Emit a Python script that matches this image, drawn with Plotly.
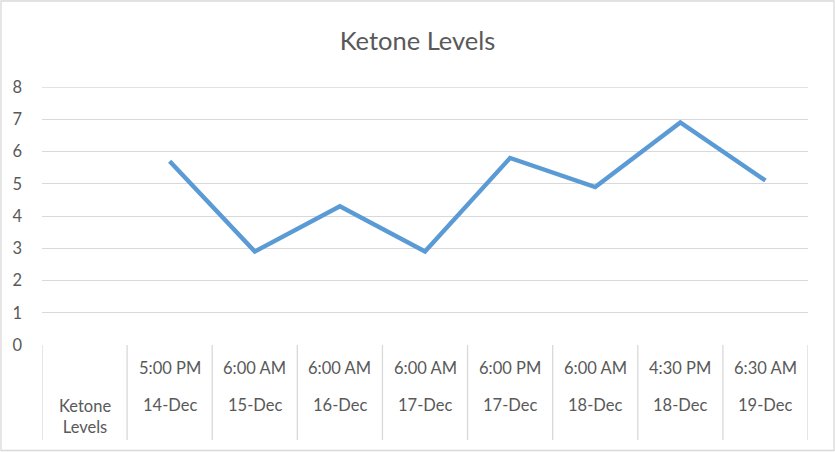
import plotly.graph_objects as go

title_text = "Ketone Levels"
series_name = "Ketone Levels"
times = ["5:00 PM", "6:00 AM", "6:00 AM", "6:00 AM", "6:00 PM", "6:00 AM", "4:30 PM", "6:30 AM"]
dates = ["14-Dec", "15-Dec", "16-Dec", "17-Dec", "17-Dec", "18-Dec", "18-Dec", "19-Dec"]
values = [5.7, 2.9, 4.3, 2.9, 5.8, 4.9, 6.9, 5.1]
y_ticks = [0, 1, 2, 3, 4, 5, 6, 7, 8]

categories = [f"{d} {t}" for d, t in zip(dates, times)]

W, H = 835, 452
L, R, T, B = 42, 27, 87, 107
plot_h = H - T - B
plot_w = W - L - R

text_color = "#595959"
grid_color = "#d9d9d9"
font_family = "Lato, 'Open Sans', sans-serif"

fig = go.Figure()
fig.add_trace(go.Scatter(
    x=categories, y=values, mode="lines", name=series_name,
    line=dict(color="#5b9bd5", width=4.4), hoverinfo="y",
))

n = len(categories)
shapes = []
# top gridline (plotly drops the one sitting on the plot edge)
shapes.append(dict(type="line", xref="paper", yref="y", x0=0, x1=1,
                   y0=max(y_ticks), y1=max(y_ticks),
                   line=dict(color=grid_color, width=1.3), layer="below"))
# vertical dividers of the category table
for i in range(n + 2):
    xv = i - 1.5
    shapes.append(dict(type="line", xref="x", yref="paper", x0=xv, x1=xv,
                       y0=0, y1=(345 - 440) / plot_h,
                       line=dict(color=grid_color, width=1.3), layer="above"))
# outer chart border
shapes.append(dict(type="rect", xref="paper", yref="paper",
                   x0=(1 - L) / plot_w, x1=(834 - L) / plot_w,
                   y0=(T + plot_h - 450.5) / plot_h, y1=(T + plot_h - 1) / plot_h,
                   line=dict(color=grid_color, width=1.3), layer="above"))

annotations = []
fs = 16.5
for c, t, d in zip(categories, times, dates):
    annotations.append(dict(x=c, xref="x", y=(345 - 368) / plot_h, yref="paper",
                            text=t, showarrow=False, xanchor="center", yanchor="middle",
                            font=dict(size=fs, color=text_color, family=font_family)))
    annotations.append(dict(x=c, xref="x", y=(345 - 405) / plot_h, yref="paper",
                            text=d, showarrow=False, xanchor="center", yanchor="middle",
                            font=dict(size=fs, color=text_color, family=font_family)))
annotations.append(dict(x=-1, xref="x", y=(345 - 416.5) / plot_h, yref="paper",
                        text=series_name.replace(" ", "<br>"), showarrow=False,
                        xanchor="center", yanchor="middle",
                        font=dict(size=fs, color=text_color, family=font_family)))

fig.update_layout(
    width=W, height=H,
    margin=dict(l=L, r=R, t=T, b=B, pad=0),
    paper_bgcolor="white", plot_bgcolor="white",
    showlegend=False,
    title=dict(text=title_text, x=0.5, xanchor="center", y=1 - 41 / H, yanchor="middle",
               font=dict(size=25.5, color=text_color, family=font_family)),
    xaxis=dict(type="category", categoryorder="array", categoryarray=categories,
               range=[-1.5, n - 0.5], showticklabels=False, showgrid=False,
               zeroline=False, showline=False, ticks=""),
    yaxis=dict(range=[0, 8], tickvals=y_ticks, showgrid=True, gridcolor=grid_color,
               gridwidth=1.3, zeroline=False, showline=False, ticks="",
               ticklabelstandoff=19,
               tickfont=dict(size=fs, color=text_color, family=font_family)),
    annotations=annotations,
    shapes=shapes,
)

fig.write_html("out.html", config={"displayModeBar": False},
               post_script="document.body.style.margin='0';document.body.style.overflow='hidden';")
